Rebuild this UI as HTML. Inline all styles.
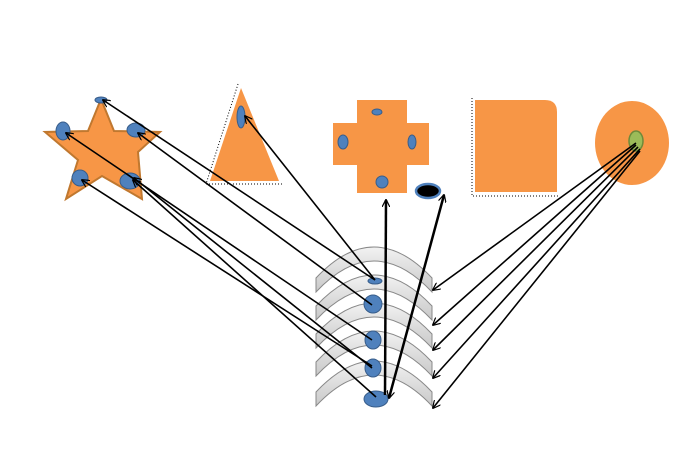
<!DOCTYPE html>
<html><head><meta charset="utf-8"><style>body{margin:0;background:#fff}svg{display:block}</style></head><body>
<svg width="694" height="474" viewBox="0 0 694 474" xmlns="http://www.w3.org/2000/svg">
<defs>
<marker id="a" viewBox="0 0 10 10" refX="9" refY="5" markerWidth="8" markerHeight="8" orient="auto-start-reverse" markerUnits="userSpaceOnUse"><path d="M0,0 L10,5 L0,10" fill="none" stroke="#000" stroke-width="1.5"/></marker>
<linearGradient id="g" x1="0" y1="0" x2="0" y2="1"><stop offset="0" stop-color="#f2f2f2"/><stop offset="1" stop-color="#c8c8c8"/></linearGradient>
</defs>
<polygon points="101,99 114,131 160,132 138,152 142,199 102,176 66,199 78,160 45,132 88,131" fill="#F79646" stroke="#c0782f" stroke-width="2"/>
<polygon points="241,88 210,181 279,181" fill="#F79646"/>
<path d="M238,84 L206,184 L283,184" fill="none" stroke="#000" stroke-width="1" stroke-dasharray="1,2"/>
<polygon points="357,100 407,100 407,123 429,123 429,165 407,165 407,193 357,193 357,165 333,165 333,123 357,123" fill="#F79646"/>
<path d="M475,100 L545,100 Q557,100 557,112 L557,192 L475,192 Z" fill="#F79646"/>
<path d="M472,98 L472,196 L560,196" fill="none" stroke="#000" stroke-width="1" stroke-dasharray="1,2"/>
<ellipse cx="632" cy="143" rx="37" ry="42" fill="#F79646"/>
<ellipse cx="636" cy="141" rx="7" ry="10" fill="#9bbb59" stroke="#6d8a3a" stroke-width="1.5"/>
<ellipse cx="428" cy="191" rx="12" ry="7" fill="#000" stroke="#4f81bd" stroke-width="2.5"/>
<g fill="url(#g)" stroke="#888" stroke-width="1">
<path d="M316,308 Q374,246 432,308 L432,294 Q374,232 316,294 Z" transform="translate(0,-16)"/>
<path d="M316,308 Q374,246 432,308 L432,294 Q374,232 316,294 Z" transform="translate(0,12)"/>
<path d="M316,308 Q374,246 432,308 L432,294 Q374,232 316,294 Z" transform="translate(0,40)"/>
<path d="M316,308 Q374,246 432,308 L432,294 Q374,232 316,294 Z" transform="translate(0,68)"/>
<path d="M316,308 Q374,246 432,308 L432,294 Q374,232 316,294 Z" transform="translate(0,98)"/>
</g>
<g fill="#4f81bd" stroke="#385d8a" stroke-width="1">
<ellipse cx="101" cy="100" rx="6" ry="3"/>
<ellipse cx="63" cy="131" rx="7" ry="9"/>
<ellipse cx="136" cy="130" rx="9" ry="7"/>
<ellipse cx="80" cy="178" rx="8" ry="8"/>
<ellipse cx="130" cy="181" rx="10" ry="8"/>
<ellipse cx="241" cy="117" rx="4" ry="11"/>
<ellipse cx="377" cy="112" rx="5" ry="3"/>
<ellipse cx="343" cy="142" rx="5" ry="7"/>
<ellipse cx="412" cy="142" rx="4" ry="7"/>
<ellipse cx="382" cy="182" rx="6" ry="6"/>
<ellipse cx="375" cy="281" rx="7" ry="3"/>
<ellipse cx="373" cy="304" rx="9" ry="9"/>
<ellipse cx="373" cy="340" rx="8" ry="9"/>
<ellipse cx="373" cy="368" rx="8" ry="9"/>
<ellipse cx="376" cy="399" rx="12" ry="8"/>
</g>
<g stroke="#000" stroke-width="1.6" fill="none" marker-end="url(#a)">
<line x1="375" y1="280" x2="103" y2="100"/>
<line x1="375" y1="280" x2="245" y2="116"/>
<line x1="372" y1="305" x2="138" y2="133"/>
<line x1="372" y1="340" x2="66" y2="133"/>
<line x1="372" y1="366" x2="82" y2="180"/>
<line x1="376" y1="397" x2="133" y2="180"/>
<line x1="372" y1="368" x2="134" y2="178"/>
<line x1="385" y1="395" x2="386" y2="200" stroke-width="2.5"/>
<line x1="444" y1="195" x2="389" y2="398" stroke-width="2.5" marker-start="url(#a)"/>
<line x1="636" y1="143" x2="433" y2="290"/>
<line x1="636" y1="145" x2="433" y2="325"/>
<line x1="638" y1="147" x2="433" y2="350"/>
<line x1="640" y1="149" x2="433" y2="378"/>
<line x1="640" y1="151" x2="433" y2="408"/>
</g>
</svg>
</body></html>
